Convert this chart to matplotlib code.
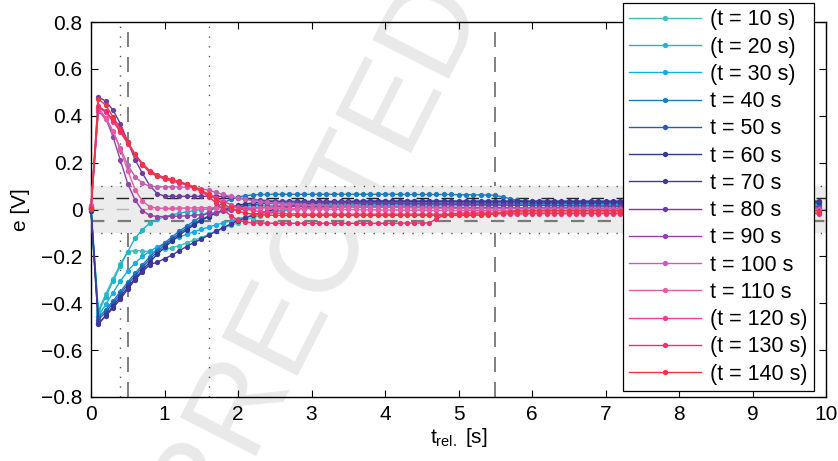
import numpy as np
import matplotlib
matplotlib.use('Agg')
import matplotlib.pyplot as plt

plt.rcParams['font.family'] = ['Liberation Sans', 'DejaVu Sans']
plt.rcParams['mathtext.fontset'] = 'custom'
plt.rcParams['mathtext.rm'] = 'Liberation Sans'
plt.rcParams['mathtext.it'] = 'Liberation Sans'

# zeitachse: 100 abtastwerte, 0.1 s raster
t_rel = np.arange(100) * 0.1

labels = ['(t = 10 s)', '(t = 20 s)', '(t = 30 s)', 't = 40 s', 't = 50 s',
          't = 60 s', 't = 70 s', 't = 80 s', 't = 90 s', 't = 100 s',
          't = 110 s', '(t = 120 s)', '(t = 130 s)', '(t = 140 s)']
colors = ['#3fc0bc', '#1fb6c8', '#16aee2', '#1b7cc2', '#2b5aac', '#2a3a96',
          '#41379a', '#6a3d9f', '#9143a7', '#c460b2', '#e65aa6', '#ef3f91',
          '#f02f6c', '#f23442']

e_10 = [0.010, -0.430, -0.362, -0.295, -0.232, -0.180, -0.175, -0.177, -0.180, -0.176,
        -0.170, -0.163, -0.154, -0.143, -0.131, -0.120, -0.106, -0.093, -0.080, -0.068,
        -0.056, -0.045, -0.035, -0.026, -0.018, -0.012, -0.007, -0.003, 0.000, 0.003,
        0.005, 0.007, 0.008, 0.009, 0.010, 0.011, 0.012, 0.012, 0.013, 0.013,
        0.014, 0.014, 0.014, 0.015, 0.015, 0.015, 0.015, 0.016, 0.016, 0.016,
        0.016, 0.016, 0.017, 0.017, 0.017, 0.017, 0.017, 0.017, 0.018, 0.018,
        0.018, 0.018, 0.018, 0.018, 0.018, 0.018, 0.019, 0.019, 0.019, 0.019,
        0.019, 0.019, 0.019, 0.019, 0.019, 0.019, 0.019, 0.020, 0.020, 0.020,
        0.020, 0.020, 0.020, 0.020, 0.020, 0.020, 0.020, 0.020, 0.020, 0.020,
        0.020, 0.020, 0.020, 0.020, 0.020, 0.020, 0.020, 0.020, 0.020, 0.020]
e_20 = [-0.005, -0.440, -0.372, -0.305, -0.240, -0.180, -0.122, -0.086, -0.058, -0.042,
        -0.031, -0.023, -0.016, -0.010, -0.005, -0.001, 0.003, 0.006, 0.009, 0.011,
        0.013, 0.014, 0.015, 0.016, 0.017, 0.018, 0.018, 0.019, 0.019, 0.020,
        0.020, 0.020, 0.021, 0.021, 0.021, 0.021, 0.021, 0.022, 0.022, 0.022,
        0.022, 0.022, 0.022, 0.022, 0.022, 0.022, 0.022, 0.022, 0.022, 0.022,
        0.022, 0.022, 0.022, 0.022, 0.022, 0.022, 0.022, 0.022, 0.022, 0.022,
        0.022, 0.022, 0.022, 0.021, 0.021, 0.021, 0.021, 0.021, 0.021, 0.021,
        0.021, 0.021, 0.021, 0.021, 0.021, 0.021, 0.021, 0.021, 0.021, 0.021,
        0.021, 0.021, 0.021, 0.021, 0.021, 0.021, 0.021, 0.021, 0.021, 0.021,
        0.021, 0.021, 0.021, 0.021, 0.021, 0.021, 0.021, 0.021, 0.021, 0.021]
e_30 = [0.000, -0.455, -0.405, -0.355, -0.305, -0.262, -0.228, -0.200, -0.178, -0.160,
        -0.145, -0.131, -0.118, -0.106, -0.095, -0.085, -0.075, -0.066, -0.057, -0.048,
        -0.040, -0.032, -0.025, -0.018, -0.012, -0.007, -0.003, 0.001, 0.004, 0.007,
        0.009, 0.011, 0.013, 0.014, 0.015, 0.016, 0.017, 0.017, 0.018, 0.018,
        0.018, 0.019, 0.019, 0.019, 0.019, 0.019, 0.020, 0.020, 0.020, 0.020,
        0.020, 0.020, 0.020, 0.020, 0.020, 0.020, 0.020, 0.020, 0.020, 0.020,
        0.020, 0.020, 0.019, 0.019, 0.019, 0.019, 0.019, 0.019, 0.019, 0.019,
        0.019, 0.019, 0.019, 0.018, 0.018, 0.018, 0.018, 0.018, 0.018, 0.018,
        0.018, 0.018, 0.018, 0.018, 0.018, 0.018, 0.018, 0.018, 0.018, 0.018,
        0.018, 0.018, 0.018, 0.018, 0.018, 0.018, 0.018, 0.018, 0.018, 0.018]
e_40 = [0.005, -0.460, -0.428, -0.390, -0.350, -0.310, -0.272, -0.236, -0.202, -0.171,
        -0.143, -0.117, -0.093, -0.071, -0.050, -0.030, -0.010, 0.010, 0.028, 0.043,
        0.053, 0.059, 0.062, 0.064, 0.064, 0.065, 0.065, 0.065, 0.065, 0.065,
        0.065, 0.065, 0.065, 0.065, 0.065, 0.065, 0.065, 0.065, 0.065, 0.065,
        0.065, 0.065, 0.065, 0.064, 0.064, 0.064, 0.064, 0.064, 0.064, 0.064,
        0.063, 0.063, 0.063, 0.062, 0.062, 0.060, 0.054, 0.046, 0.039, 0.035,
        0.033, 0.032, 0.031, 0.031, 0.030, 0.030, 0.030, 0.030, 0.030, 0.030,
        0.030, 0.030, 0.030, 0.030, 0.030, 0.030, 0.030, 0.030, 0.030, 0.030,
        0.030, 0.030, 0.030, 0.030, 0.030, 0.030, 0.030, 0.030, 0.030, 0.030,
        0.030, 0.030, 0.030, 0.030, 0.030, 0.030, 0.030, 0.030, 0.030, 0.030]
e_50 = [0.000, -0.470, -0.438, -0.400, -0.360, -0.320, -0.282, -0.246, -0.212, -0.181,
        -0.152, -0.126, -0.102, -0.080, -0.060, -0.043, -0.028, -0.015, -0.004, 0.005,
        0.012, 0.017, 0.021, 0.024, 0.026, 0.027, 0.028, 0.028, 0.028, 0.028,
        0.028, 0.028, 0.028, 0.028, 0.028, 0.028, 0.028, 0.028, 0.028, 0.028,
        0.028, 0.028, 0.028, 0.028, 0.028, 0.028, 0.028, 0.028, 0.028, 0.028,
        0.028, 0.028, 0.028, 0.028, 0.028, 0.028, 0.028, 0.028, 0.028, 0.028,
        0.027, 0.027, 0.027, 0.027, 0.027, 0.027, 0.027, 0.027, 0.027, 0.027,
        0.027, 0.027, 0.027, 0.027, 0.027, 0.027, 0.027, 0.027, 0.027, 0.027,
        0.027, 0.027, 0.027, 0.027, 0.027, 0.027, 0.027, 0.027, 0.027, 0.027,
        0.027, 0.027, 0.027, 0.027, 0.027, 0.027, 0.027, 0.027, 0.027, 0.027]
e_60 = [-0.005, -0.490, -0.452, -0.412, -0.372, -0.332, -0.294, -0.258, -0.224, -0.192,
        -0.162, -0.135, -0.110, -0.087, -0.066, -0.047, -0.030, -0.015, -0.002, 0.009,
        0.018, 0.024, 0.028, 0.031, 0.033, 0.034, 0.034, 0.035, 0.035, 0.035,
        0.035, 0.035, 0.035, 0.035, 0.035, 0.035, 0.035, 0.035, 0.035, 0.035,
        0.035, 0.035, 0.035, 0.035, 0.035, 0.035, 0.035, 0.035, 0.035, 0.035,
        0.034, 0.034, 0.034, 0.034, 0.034, 0.034, 0.034, 0.034, 0.034, 0.034,
        0.034, 0.034, 0.034, 0.034, 0.034, 0.034, 0.034, 0.034, 0.034, 0.034,
        0.034, 0.034, 0.034, 0.034, 0.034, 0.034, 0.034, 0.034, 0.034, 0.034,
        0.034, 0.034, 0.034, 0.034, 0.034, 0.034, 0.034, 0.034, 0.034, 0.034,
        0.034, 0.034, 0.034, 0.034, 0.034, 0.034, 0.034, 0.034, 0.034, 0.034]
e_70 = [0.000, -0.485, -0.455, -0.420, -0.382, -0.340, -0.300, -0.266, -0.235, -0.225,
        -0.210, -0.195, -0.176, -0.158, -0.141, -0.126, -0.110, -0.093, -0.077, -0.062,
        -0.048, -0.036, -0.025, -0.015, -0.007, 0.000, 0.007, 0.013, 0.018, 0.022,
        0.025, 0.028, 0.030, 0.032, 0.033, 0.034, 0.035, 0.035, 0.036, 0.036,
        0.036, 0.036, 0.036, 0.036, 0.036, 0.036, 0.036, 0.036, 0.036, 0.036,
        0.036, 0.036, 0.036, 0.036, 0.036, 0.036, 0.036, 0.036, 0.036, 0.036,
        0.036, 0.036, 0.036, 0.036, 0.036, 0.036, 0.036, 0.036, 0.036, 0.036,
        0.036, 0.036, 0.036, 0.036, 0.036, 0.036, 0.036, 0.036, 0.036, 0.036,
        0.036, 0.036, 0.036, 0.036, 0.036, 0.036, 0.036, 0.036, 0.036, 0.036,
        0.036, 0.036, 0.036, 0.036, 0.036, 0.036, 0.036, 0.036, 0.036, 0.036]
e_80 = [0.010, 0.480, 0.462, 0.424, 0.366, 0.289, 0.213, 0.154, 0.102, 0.068,
        0.057, 0.056, 0.056, 0.056, 0.056, 0.056, 0.057, 0.057, 0.056, 0.053,
        0.049, 0.045, 0.042, 0.040, 0.038, 0.036, 0.035, 0.034, 0.033, 0.033,
        0.032, 0.032, 0.031, 0.031, 0.030, 0.030, 0.029, 0.029, 0.028, 0.028,
        0.027, 0.027, 0.026, 0.026, 0.025, 0.025, 0.024, 0.024, 0.023, 0.023,
        0.022, 0.022, 0.021, 0.021, 0.020, 0.020, 0.019, 0.019, 0.018, 0.018,
        0.017, 0.017, 0.017, 0.016, 0.016, 0.016, 0.015, 0.015, 0.015, 0.015,
        0.014, 0.014, 0.014, 0.014, 0.014, 0.013, 0.013, 0.013, 0.013, 0.013,
        0.013, 0.013, 0.012, 0.012, 0.012, 0.012, 0.012, 0.012, 0.012, 0.012,
        0.012, 0.012, 0.012, 0.012, 0.012, 0.012, 0.012, 0.012, 0.012, 0.012]
e_90 = [0.000, 0.430, 0.390, 0.310, 0.210, 0.110, 0.040, -0.005, -0.025, -0.030,
        -0.030, -0.029, -0.028, -0.027, -0.025, -0.022, -0.018, -0.013, -0.008, -0.004,
        0.000, 0.003, 0.006, 0.008, 0.010, 0.011, 0.012, 0.013, 0.013, 0.013,
        0.013, 0.013, 0.012, 0.012, 0.012, 0.012, 0.011, 0.011, 0.011, 0.011,
        0.010, 0.010, 0.010, 0.010, 0.010, 0.009, 0.009, 0.009, 0.009, 0.009,
        0.008, 0.008, 0.008, 0.008, 0.008, 0.008, 0.008, 0.007, 0.007, 0.007,
        0.007, 0.007, 0.007, 0.007, 0.007, 0.007, 0.006, 0.006, 0.006, 0.006,
        0.006, 0.006, 0.006, 0.006, 0.006, 0.006, 0.006, 0.006, 0.006, 0.006,
        0.006, 0.006, 0.006, 0.006, 0.006, 0.006, 0.006, 0.006, 0.006, 0.006,
        0.006, 0.006, 0.006, 0.006, 0.006, 0.006, 0.006, 0.006, 0.006, 0.006]
e_100 = [0.015, 0.420, 0.385, 0.330, 0.262, 0.190, 0.140, 0.112, 0.100, 0.097,
         0.097, 0.097, 0.096, 0.095, 0.093, 0.089, 0.082, 0.073, 0.064, 0.056,
         0.049, 0.043, 0.038, 0.034, 0.030, 0.027, 0.025, 0.023, 0.021, 0.020,
         0.019, 0.018, 0.017, 0.016, 0.015, 0.014, 0.013, 0.012, 0.011, 0.010,
         0.010, 0.009, 0.009, 0.008, 0.008, 0.007, 0.007, 0.006, 0.006, 0.006,
         0.005, 0.005, 0.005, 0.005, 0.004, 0.004, 0.004, 0.004, 0.004, 0.003,
         0.003, 0.003, 0.003, 0.003, 0.003, 0.003, 0.002, 0.002, 0.002, 0.002,
         0.002, 0.002, 0.002, 0.002, 0.002, 0.002, 0.002, 0.002, 0.002, 0.002,
         0.002, 0.002, 0.002, 0.002, 0.002, 0.002, 0.002, 0.002, 0.002, 0.002,
         0.002, 0.002, 0.002, 0.002, 0.002, 0.002, 0.002, 0.002, 0.002, 0.002]
e_110 = [0.020, 0.430, 0.392, 0.335, 0.255, 0.165, 0.085, 0.035, 0.012, 0.006,
         0.005, 0.005, 0.006, 0.006, 0.007, 0.007, 0.008, 0.008, 0.008, 0.008,
         0.008, 0.007, 0.007, 0.006, 0.006, 0.005, 0.005, 0.004, 0.004, 0.003,
         0.003, 0.002, 0.002, 0.001, 0.001, 0.000, 0.000, -0.001, -0.001, -0.002,
         -0.002, -0.002, -0.003, -0.003, -0.003, -0.003, -0.004, -0.004, -0.004, -0.004,
         -0.004, -0.004, -0.005, -0.005, -0.005, -0.005, -0.005, -0.005, -0.005, -0.005,
         -0.005, -0.005, -0.005, -0.005, -0.005, -0.005, -0.005, -0.005, -0.005, -0.005,
         -0.005, -0.005, -0.005, -0.005, -0.005, -0.005, -0.005, -0.005, -0.005, -0.005,
         -0.005, -0.005, -0.005, -0.005, -0.005, -0.005, -0.005, -0.005, -0.005, -0.005,
         -0.005, -0.005, -0.005, -0.005, -0.005, -0.005, -0.005, -0.005, -0.005, -0.005]
e_120 = [0.000, 0.435, 0.415, 0.375, 0.330, 0.280, 0.232, 0.192, 0.162, 0.142,
         0.130, 0.121, 0.113, 0.104, 0.093, 0.080, 0.065, 0.050, 0.035, 0.021,
         0.010, 0.002, -0.004, -0.009, -0.012, -0.015, -0.017, -0.018, -0.019, -0.020,
         -0.020, -0.020, -0.020, -0.020, -0.020, -0.020, -0.020, -0.020, -0.020, -0.020,
         -0.020, -0.020, -0.020, -0.020, -0.020, -0.020, -0.020, -0.020, -0.020, -0.020,
         -0.020, -0.020, -0.020, -0.019, -0.019, -0.019, -0.019, -0.019, -0.019, -0.019,
         -0.018, -0.018, -0.018, -0.018, -0.018, -0.018, -0.018, -0.018, -0.018, -0.018,
         -0.018, -0.018, -0.018, -0.018, -0.018, -0.018, -0.018, -0.018, -0.018, -0.018,
         -0.018, -0.018, -0.018, -0.018, -0.018, -0.018, -0.018, -0.018, -0.018, -0.018,
         -0.018, -0.018, -0.018, -0.018, -0.018, -0.018, -0.018, -0.018, -0.018, -0.018]
e_130 = [0.005, 0.440, 0.420, 0.382, 0.335, 0.285, 0.236, 0.196, 0.166, 0.148,
         0.137, 0.128, 0.118, 0.107, 0.094, 0.077, 0.055, 0.028, 0.000, -0.026,
         -0.045, -0.053, -0.057, -0.058, -0.058, -0.059, -0.059, -0.059, -0.059, -0.059,
         -0.059, -0.059, -0.059, -0.059, -0.059, -0.059, -0.059, -0.059, -0.059, -0.059,
         -0.059, -0.059, -0.058, -0.058, -0.058, -0.058, -0.057, -0.040, -0.024, -0.018,
         -0.016, -0.015, -0.015, -0.015, -0.015, -0.015, -0.015, -0.015, -0.015, -0.015,
         -0.015, -0.015, -0.015, -0.015, -0.015, -0.015, -0.015, -0.015, -0.015, -0.015,
         -0.015, -0.015, -0.015, -0.015, -0.015, -0.015, -0.015, -0.015, -0.015, -0.015,
         -0.015, -0.015, -0.015, -0.015, -0.015, -0.015, -0.015, -0.015, -0.015, -0.015,
         -0.015, -0.015, -0.015, -0.015, -0.015, -0.015, -0.015, -0.015, -0.015, -0.015]
e_140 = [0.000, 0.472, 0.445, 0.395, 0.345, 0.290, 0.235, 0.190, 0.158, 0.143,
         0.133, 0.127, 0.121, 0.108, 0.097, 0.082, 0.064, 0.044, 0.024, 0.006,
         -0.007, -0.015, -0.020, -0.023, -0.024, -0.025, -0.025, -0.025, -0.025, -0.025,
         -0.025, -0.025, -0.025, -0.025, -0.025, -0.025, -0.025, -0.025, -0.025, -0.025,
         -0.025, -0.025, -0.025, -0.025, -0.025, -0.025, -0.025, -0.025, -0.025, -0.025,
         -0.025, -0.025, -0.025, -0.024, -0.022, -0.018, -0.013, -0.009, -0.007, -0.006,
         -0.005, -0.005, -0.005, -0.005, -0.005, -0.005, -0.005, -0.005, -0.005, -0.005,
         -0.005, -0.005, -0.005, -0.005, -0.005, -0.005, -0.005, -0.005, -0.005, -0.005,
         -0.005, -0.005, -0.005, -0.005, -0.005, -0.005, -0.005, -0.005, -0.005, -0.005,
         -0.005, -0.005, -0.005, -0.005, -0.005, -0.005, -0.005, -0.005, -0.005, -0.005]

series = [e_10, e_20, e_30, e_40, e_50, e_60, e_70,
          e_80, e_90, e_100, e_110, e_120, e_130, e_140]

W, H = 838, 461
fig = plt.figure(figsize=(W / 100, H / 100), dpi=100)
ax = fig.add_axes([91 / W, 64 / H, 735 / W, 375 / H])
ax.set_facecolor('none')
ax.set_zorder(2)

# wasserzeichen (hinter dem diagramm)
fig.text(452 / W, 1 + 16 / H, 'UNCORRECTED', rotation=63, rotation_mode='anchor',
         ha='right', va='center', fontsize=90, color='#e9e9e9', zorder=0)

# toleranzband und hilfslinien
for xv in [0.5, 5.5]:
    ax.axvline(xv, color='#6a6a6a', lw=1.2, ls=(0, (9, 6)), zorder=1)
for xv in [0.4, 1.6]:
    ax.axvline(xv, color='#555555', lw=1.0, ls=(0, (1, 6)), zorder=1)
ax.axhspan(-0.1, 0.1, color='#ececec', lw=0, zorder=1.5)
for yv in [-0.1, 0.1]:
    ax.axhline(yv, color='#555555', lw=1.0, ls=(0, (1, 6)), zorder=1.6)
ax.axhline(0.05, color='#222222', lw=1.0, ls=(0, (9, 9)), zorder=1.7)
ax.axhline(-0.05, color='#7a7a7a', lw=1.6, ls=(0, (6, 6)), zorder=1.7)
ax.axhline(0.0, color='#b5b5b5', lw=1.0, ls=(0, (9, 9)), zorder=1.7)

for vals, c, lab in zip(series, colors, labels):
    ax.plot(t_rel, vals, '-o', color=c, lw=1.0, ms=3.8, mew=0, label=lab,
            clip_on=False, zorder=3)

ax.set_xlim(0, 10)
ax.set_ylim(-0.8, 0.8)
ax.set_xticks(range(0, 11))
ax.set_yticks(np.arange(-0.8, 0.81, 0.2))
ax.set_yticklabels(['\u22120.8', '\u22120.6', '\u22120.4', '\u22120.2', '0',
                    '0.2', '0.4', '0.6', '0.8'])
ax.tick_params(direction='in', top=True, right=True, length=5, width=0.8,
               labelsize=15, pad=6)
for sp in ax.spines.values():
    sp.set_linewidth(1.0)

ax.set_xlabel(r'$\mathregular{t_{rel.}}$ [s]', fontsize=15, labelpad=1)
ax.set_ylabel('e [V]', fontsize=15, labelpad=8)

leg = ax.legend(loc='upper left', bbox_to_anchor=(623 / W, 1 - 3 / H),
                bbox_transform=fig.transFigure, fontsize=15.5, frameon=True,
                fancybox=False, edgecolor='black', framealpha=1,
                labelspacing=0.29, handlelength=3.3, handletextpad=0.45,
                borderpad=0.3, borderaxespad=0)
leg.get_frame().set_linewidth(0.9)
leg.set_zorder(10)

fig.savefig('out.png', dpi=100)
